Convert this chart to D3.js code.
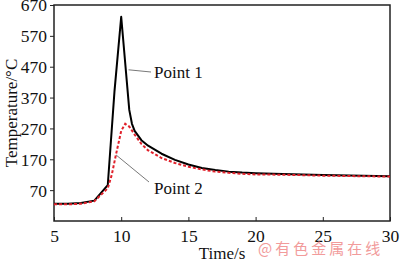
<!DOCTYPE html>
<html>
<head>
<meta charset="utf-8">
<script src="https://cdn.jsdelivr.net/npm/d3@7"></script>
<style>
  body { margin: 0; background: #fff; }
  svg { display: block; }
</style>
</head>
<body>
<svg id="canvas" width="400" height="262"></svg>
<script>
// readings
var timeTicks = [5, 10, 15, 20, 25, 30];
var tempTicks = [70, 170, 270, 370, 470, 570, 670];

var p1Time = [5, 6, 7, 8, 9, 9.5, 10, 10.6, 10.8, 11, 11.5, 12, 13, 14, 15, 16, 17, 18, 19, 20, 22, 25, 28, 30];
var p1Temp = [26, 26, 28, 36, 86, 390, 632, 330, 285, 262, 232, 214, 188, 168, 153, 142, 135, 130, 127, 125, 122, 119, 117, 115];

var p2Time = [5, 6, 7, 8, 9, 9.3, 9.6, 10, 10.3, 10.6, 11, 11.5, 12, 13, 14, 15, 16, 17, 18, 19, 20, 22, 25, 28, 30];
var p2Temp = [24, 24, 26, 34, 76, 120, 183, 262, 285, 276, 250, 220, 199, 174, 158, 146, 137, 130, 126, 123, 121, 120, 117, 115, 114];

var svg = d3.select("#canvas");
// plot box edges (note: "top" is reserved on window, so use padTop etc.)
var padLeft = 54, padRight = 390, padTop = 5, padBottom = 221;

var x = d3.scaleLinear().domain([5, 30]).range([padLeft, padRight]);
var y = d3.scaleLinear().domain([-30, 670]).range([padBottom, padTop]);

var serif = "'Liberation Serif', 'Times New Roman', serif";

// axes
var xAxis = svg.append("g")
  .attr("transform", "translate(0," + padBottom + ")")
  .call(d3.axisBottom(x).tickValues(timeTicks).tickSize(-4).tickPadding(9));
var yAxis = svg.append("g")
  .attr("transform", "translate(" + padLeft + ",0)")
  .call(d3.axisLeft(y).tickValues(tempTicks).tickSize(4).tickPadding(3));

[xAxis, yAxis].forEach(function(g) {
  g.select(".domain").remove();
  g.selectAll("line").attr("stroke", "#222").attr("stroke-width", 1);
  g.selectAll("text").attr("fill", "#111").style("font-family", serif).style("font-size", "17.5px");
});
xAxis.selectAll("text").attr("dy", "0.71em");
yAxis.selectAll("text").attr("dy", "0.34em");

// frame
svg.append("rect")
  .attr("x", padLeft).attr("y", padTop)
  .attr("width", padRight - padLeft).attr("height", padBottom - padTop)
  .attr("fill", "none").attr("stroke", "#222").attr("stroke-width", 1.5);

var line = d3.line()
  .x(function(d) { return x(d[0]); })
  .y(function(d) { return y(d[1]); });

var p1 = p1Time.map(function(t, i) { return [t, p1Temp[i]]; });
var p2 = p2Time.map(function(t, i) { return [t, p2Temp[i]]; });

svg.append("path")
  .datum(p1)
  .attr("d", line)
  .attr("fill", "none")
  .attr("stroke", "#000")
  .attr("stroke-width", 2)
  .attr("stroke-linejoin", "round");

svg.append("path")
  .datum(p2)
  .attr("d", line)
  .attr("fill", "none")
  .attr("stroke", "#e0202a")
  .attr("stroke-width", 2)
  .attr("stroke-dasharray", "3,2");

// leader lines and labels
svg.append("line")
  .attr("x1", x(10.55)).attr("y1", y(460))
  .attr("x2", 151).attr("y2", 72)
  .attr("stroke", "#555").attr("stroke-width", 0.8);
svg.append("text")
  .attr("x", 154).attr("y", 78)
  .style("font-family", serif).style("font-size", "17px")
  .attr("fill", "#111")
  .text("Point 1");

svg.append("line")
  .attr("x1", x(9.62)).attr("y1", y(184))
  .attr("x2", 149).attr("y2", 182)
  .attr("stroke", "#555").attr("stroke-width", 0.8);
svg.append("text")
  .attr("x", 154).attr("y", 194)
  .style("font-family", serif).style("font-size", "17px")
  .attr("fill", "#111")
  .text("Point 2");

// axis titles
svg.append("text")
  .attr("x", (padLeft + padRight) / 2).attr("y", 259)
  .attr("text-anchor", "middle")
  .style("font-family", serif).style("font-size", "17px")
  .attr("fill", "#111")
  .text("Time/s");

svg.append("text")
  .attr("transform", "translate(17," + (padTop + padBottom) / 2 + ") rotate(-90)")
  .attr("text-anchor", "middle")
  .style("font-family", serif).style("font-size", "17px")
  .attr("fill", "#111")
  .text("Temperature/°C");

// watermark
svg.append("text")
  .attr("x", 258).attr("y", 254)
  .style("font-family", "'Noto Sans CJK SC', sans-serif").style("font-size", "15px")
  .style("letter-spacing", "3px")
  .attr("fill", "#f08a8a").attr("opacity", 0.85)
  .text("@有色金属在线");
</script>
</body>
</html>
